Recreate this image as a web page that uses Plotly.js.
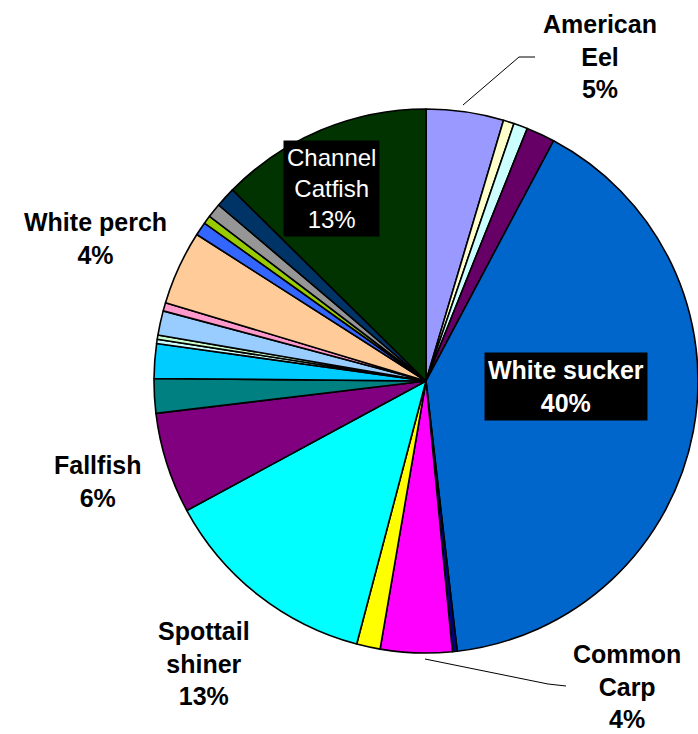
<!DOCTYPE html>
<html>
<head>
<meta charset="utf-8">
<script src="https://cdn.plot.ly/plotly-3.0.1.min.js"></script>
<style>html,body{margin:0;padding:0;background:#fff;}#chart{width:698px;height:734px;}</style>
</head>
<body>
<div id="chart"></div>
<script>
// Slices, clockwise from 12 o'clock
const species = [
  "American Eel", "Species B", "Species C", "Species D", "White sucker",
  "Species F", "Common Carp", "Species H", "Spottail shiner", "Fallfish",
  "Species K", "Species L", "Species M", "Species N", "Species O",
  "Species P", "White perch", "Species R", "Species S", "Species T",
  "Species U", "Channel Catfish"
];
const percents = [
  4.6, 0.64, 0.83, 1.7, 40.4,
  0.28, 4.25, 1.4, 13.0, 6.0,
  2.05, 2.05, 0.25, 0.25, 1.45,
  0.5, 4.4, 0.8, 0.5, 0.85,
  1.2, 12.6
];
const colors = [
  "#9999FF", "#FFFFCC", "#CCFFFF", "#660066", "#0066CC",
  "#000080", "#FF00FF", "#FFFF00", "#00FFFF", "#800080",
  "#008080", "#00CCFF", "#CCFFFF", "#CCFFCC", "#99CCFF",
  "#FF99CC", "#FFCC99", "#3366FF", "#99CC00", "#969696",
  "#003366", "#003300"
];
// Labelled slices: [label lines, x px, y px, style]
const labelled = [
  {name: "American Eel", lines: ["American", "Eel"], x: 600, y: 57, style: "outside"},
  {name: "White sucker", lines: ["White sucker"], x: 566, y: 386, style: "boxBold"},
  {name: "Common Carp", lines: ["Common", "Carp"], x: 627, y: 686, style: "outside"},
  {name: "Spottail shiner", lines: ["Spottail", "shiner"], x: 204, y: 663, style: "outside"},
  {name: "Fallfish", lines: ["Fallfish"], x: 98, y: 481, style: "outside"},
  {name: "White perch", lines: ["White perch"], x: 95, y: 239, style: "outside"},
  {name: "Channel Catfish", lines: ["Channel", "Catfish"], x: 331, y: 188, style: "box"}
];

const W = 698, H = 734;
const total = percents.reduce((a, b) => a + b, 0);
const px = x => x / W, py = y => 1 - y / H;

const annotations = labelled.map(l => {
  const i = species.indexOf(l.name);
  const pct = Math.round(percents[i] / total * 100) + "%";
  const txt = l.lines.concat([pct]).join("<br>");
  const a = {
    xref: "paper", yref: "paper", x: px(l.x), y: py(l.y),
    xanchor: "center", yanchor: "middle", showarrow: false,
    text: txt, align: "center"
  };
  if (l.style === "outside") {
    a.text = "<b>" + txt + "</b>";
    a.font = {family: "Liberation Sans, Arial, sans-serif", size: 25, color: "#000"};
  } else if (l.style === "boxBold") {
    a.text = "<b>" + txt + "</b>";
    a.font = {family: "Liberation Sans, Arial, sans-serif", size: 25, color: "#fff"};
    a.bgcolor = "#000"; a.borderpad = 3;
  } else {
    a.font = {family: "Liberation Sans, Arial, sans-serif", size: 24, color: "#fff"};
    a.bgcolor = "#000"; a.borderpad = 3;
  }
  return a;
});

const leader = pts => "M " + pts.map(p => px(p[0]) + "," + py(p[1])).join(" L ");
const shapes = [
  {type: "path", xref: "paper", yref: "paper", path: leader([[463,105],[519,57],[535,57]]), line: {color: "#000", width: 1}},
  {type: "path", xref: "paper", yref: "paper", path: leader([[425,659],[548,684],[566,686]]), line: {color: "#000", width: 1}}
];

const cx = 426, cy = 381, r = 272;
const trace = {
  type: "pie",
  labels: species,
  values: percents,
  sort: false,
  direction: "clockwise",
  rotation: 0,
  textinfo: "none",
  hoverinfo: "label+percent",
  marker: {colors: colors, line: {color: "#000", width: 1.6}},
  domain: {x: [(cx - r) / W, Math.min(1, (cx + r) / W)], y: [(H - cy - r) / H, (H - cy + r) / H]},
  showlegend: false
};

Plotly.newPlot("chart", [trace], {
  width: W, height: H,
  margin: {l: 0, r: 0, t: 0, b: 0},
  paper_bgcolor: "#fff",
  showlegend: false,
  annotations: annotations,
  shapes: shapes
}, {displayModeBar: false, staticPlot: true});
</script>
</body>
</html>
